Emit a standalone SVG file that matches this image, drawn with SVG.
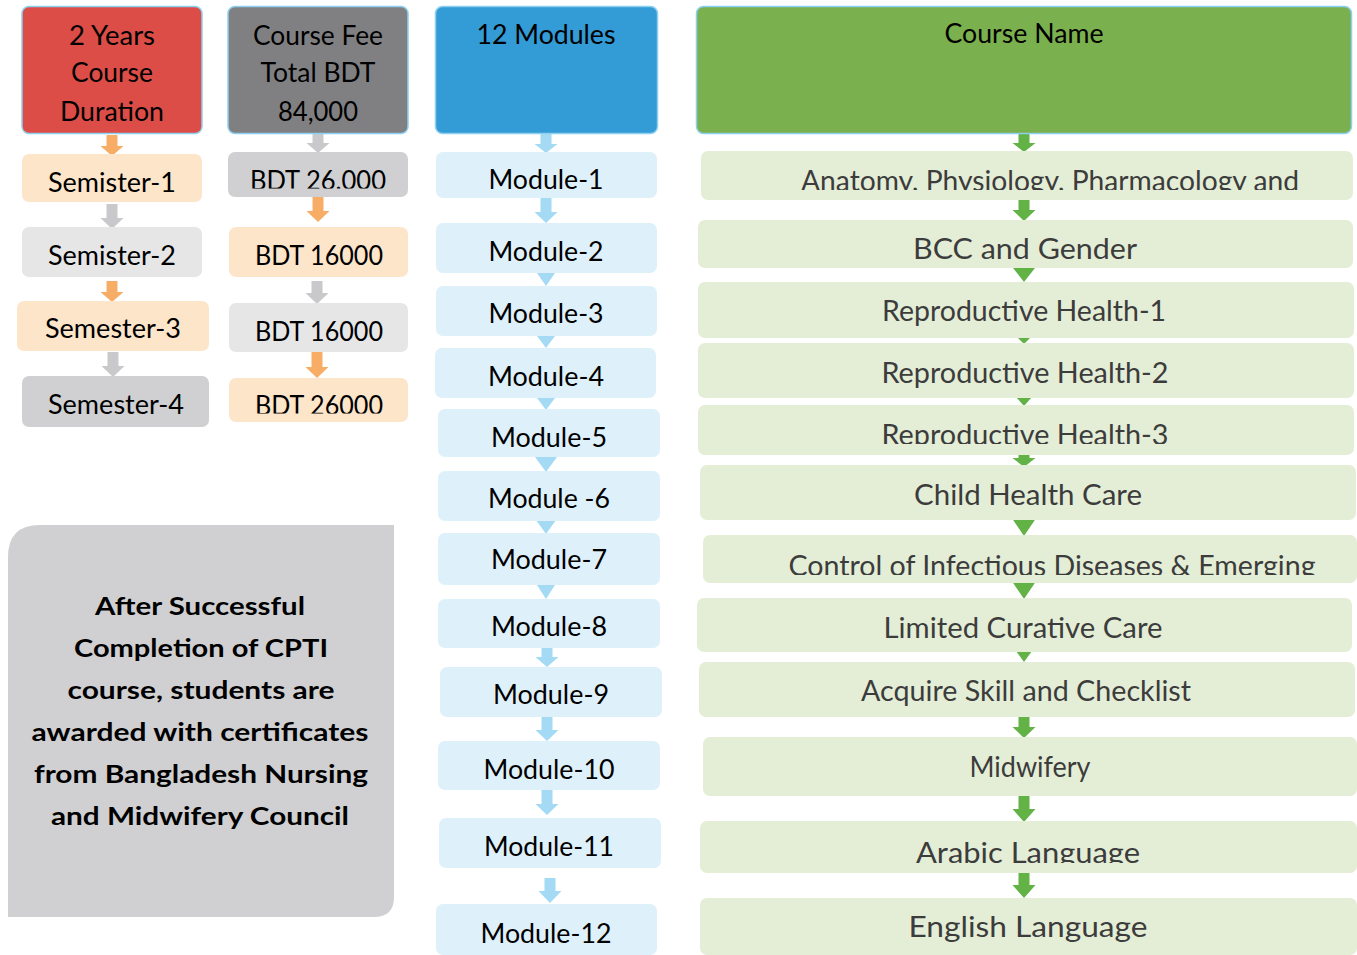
<svg xmlns="http://www.w3.org/2000/svg" width="1357" height="955" viewBox="0 0 1357 955">
<style>
.hdr{stroke:#8DD0F0;stroke-width:1.5}
.t{font-family:Lato,"Liberation Sans",sans-serif;font-size:26px;fill:#000;text-anchor:middle}
.g{font-family:Lato,"Liberation Sans",sans-serif;font-size:28px;fill:#3C3C3C;text-anchor:middle}
.b{font-family:Lato,"Liberation Sans",sans-serif;font-weight:bold;font-size:25px;fill:#000;text-anchor:middle}
.peach{fill:#FDE5CA}
.lg{fill:#E6E6E7}
.mg{fill:#D0D0D2}
.mod{fill:#DEF0FA}
.crs{fill:#E4EED6}
.ao{fill:#F7AD66}
.ag{fill:#C9C9CB}
.ab{fill:#A4DAF4}
.agr{fill:#62B246}
</style>
<defs>
<clipPath id="c1"><rect x="220" y="140" width="200" height="48.5"/></clipPath>
<clipPath id="c2"><rect x="220" y="370" width="200" height="43.5"/></clipPath>
<clipPath id="c3"><rect x="690" y="140" width="667" height="50"/></clipPath>
<clipPath id="c4"><rect x="690" y="400" width="667" height="44"/></clipPath>
<clipPath id="c5"><rect x="690" y="530" width="667" height="45"/></clipPath>
<clipPath id="c6"><rect x="690" y="815" width="667" height="48"/></clipPath>
</defs>

<g id="connectors">
<path class="ao" d="M106.5,135 H117.5 V146 H123.5 L112,156 L100.5,146 H106.5 Z"/>
<path class="ag" d="M106.5,204 H117.5 V218 H123.5 L112,229 L100.5,218 H106.5 Z"/>
<path class="ao" d="M106.5,281 H117.5 V292 H123.5 L112,302 L100.5,292 H106.5 Z"/>
<path class="ag" d="M107.5,352 H118.5 V366 H124.5 L113,377 L101.5,366 H107.5 Z"/>

<path class="ag" d="M312.5,134 H323.5 V143 H329.5 L318,153 L306.5,143 H312.5 Z"/>
<path class="ao" d="M312.5,197 H323.5 V211 H329.5 L318,222 L306.5,211 H312.5 Z"/>
<path class="ag" d="M311.5,281 H322.5 V293 H328.5 L317,304 L305.5,293 H311.5 Z"/>
<path class="ao" d="M311.5,352 H322.5 V367 H328.5 L317,378 L305.5,367 H311.5 Z"/>

<path class="ab" d="M540.5,134 H551.5 V144 H557.5 L546,153 L534.5,144 H540.5 Z"/>
<path class="ab" d="M540.5,198 H551.5 V212 H557.5 L546,223 L534.5,212 H540.5 Z"/>
<path class="ab" d="M537,273 H555 L546,286 Z"/>
<path class="ab" d="M537,336 H555 L546,348 Z"/>
<path class="ab" d="M537,398 H555 L546,410 Z"/>
<path class="ab" d="M535,457 H557 L546,472 Z"/>
<path class="ab" d="M536,520 H556 L546,534 Z"/>
<path class="ab" d="M537,585 H555 L546,599 Z"/>
<path class="ab" d="M541.5,648 H552.5 V657 H558.5 L547,667 L535.5,657 H541.5 Z"/>
<path class="ab" d="M541.5,716 H552.5 V730 H558.5 L547,741 L535.5,730 H541.5 Z"/>
<path class="ab" d="M541.5,790 H552.5 V804 H558.5 L547,815 L535.5,804 H541.5 Z"/>
<path class="ab" d="M544.5,878 H555.5 V891 H561.5 L550,903 L538.5,891 H544.5 Z"/>

<path class="agr" d="M1018.5,134 H1029.5 V143 H1035.5 L1024,152 L1012.5,143 H1018.5 Z"/>
<path class="agr" d="M1018.5,199 H1029.5 V210 H1035.5 L1024,221 L1012.5,210 H1018.5 Z"/>
<path class="agr" d="M1013,268 H1035 L1024,282 Z"/>
<path class="agr" d="M1017,337 H1031 L1024,344 Z"/>
<path class="agr" d="M1016,397 H1032 L1024,406 Z"/>
<path class="agr" d="M1018.5,454 H1029.5 V458 H1035.5 L1024,467 L1012.5,458 H1018.5 Z"/>
<path class="agr" d="M1012.5,519 H1035.5 L1024,536 Z"/>
<path class="agr" d="M1012.5,582 H1035.5 L1024,599 Z"/>
<path class="agr" d="M1016,651 H1032 L1024,662 Z"/>
<path class="agr" d="M1018.5,716 H1029.5 V727 H1035.5 L1024,738 L1012.5,727 H1018.5 Z"/>
<path class="agr" d="M1018.5,796 H1029.5 V809 H1035.5 L1024,822 L1012.5,809 H1018.5 Z"/>
<path class="agr" d="M1018.5,872 H1029.5 V885 H1035.5 L1024,898 L1012.5,885 H1018.5 Z"/>
</g>

<!-- Column 1 -->
<g id="duration">
<rect class="hdr" x="22" y="6.5" width="180" height="127" rx="7" fill="#DC4D47"/>
<text class="t" x="112" y="45" textLength="86" lengthAdjust="spacingAndGlyphs">2 Years</text>
<text class="t" x="112" y="82" textLength="82" lengthAdjust="spacingAndGlyphs">Course</text>
<text class="t" x="112" y="121" textLength="104" lengthAdjust="spacingAndGlyphs">Duration</text>
</g>
<g id="sem1">
<rect class="peach" x="22" y="154" width="180" height="48" rx="7"/>
<text class="t" x="112" y="192" textLength="128" lengthAdjust="spacingAndGlyphs">Semister-1</text>
</g>
<g id="sem2">
<rect class="lg" x="22" y="227" width="180" height="50" rx="7"/>
<text class="t" x="112" y="265" textLength="128" lengthAdjust="spacingAndGlyphs">Semister-2</text>
</g>
<g id="sem3">
<rect class="peach" x="17" y="301" width="192" height="50" rx="7"/>
<text class="t" x="113" y="338" textLength="136" lengthAdjust="spacingAndGlyphs">Semester-3</text>
</g>
<g id="sem4">
<rect class="mg" x="22" y="376" width="187" height="51" rx="7"/>
<text class="t" x="116" y="414" textLength="136" lengthAdjust="spacingAndGlyphs">Semester-4</text>
</g>

<!-- Column 2 -->
<g id="fee">
<rect class="hdr" x="228" y="6.5" width="180" height="127" rx="7" fill="#808082"/>
<text class="t" x="318" y="45" textLength="130" lengthAdjust="spacingAndGlyphs">Course Fee</text>
<text class="t" x="318" y="82" textLength="115" lengthAdjust="spacingAndGlyphs">Total BDT</text>
<text class="t" x="318" y="121" textLength="80" lengthAdjust="spacingAndGlyphs">84,000</text>
</g>
<g id="fee1">
<rect class="mg" x="228" y="152" width="180" height="45" rx="7"/>
<text class="t" x="318" y="190" textLength="136" lengthAdjust="spacingAndGlyphs" clip-path="url(#c1)">BDT 26.000</text>
</g>
<g id="fee2">
<rect class="peach" x="229" y="227" width="179" height="50" rx="7"/>
<text class="t" x="319" y="265" textLength="128" lengthAdjust="spacingAndGlyphs">BDT 16000</text>
</g>
<g id="fee3">
<rect class="lg" x="229" y="303" width="179" height="49" rx="7"/>
<text class="t" x="319" y="341" textLength="128" lengthAdjust="spacingAndGlyphs">BDT 16000</text>
</g>
<g id="fee4">
<rect class="peach" x="229" y="378" width="179" height="44" rx="7"/>
<text class="t" x="319" y="415" textLength="128" lengthAdjust="spacingAndGlyphs" clip-path="url(#c2)">BDT 26000</text>
</g>

<!-- Column 3 -->
<g id="modules">
<rect class="hdr" x="435.5" y="6.5" width="222" height="127" rx="7" fill="#339BD5"/>
<text class="t" x="546" y="44" textLength="139" lengthAdjust="spacingAndGlyphs">12 Modules</text>
</g>
<g id="m1"><rect class="mod" x="436" y="152" width="221" height="46" rx="7"/><text class="t" x="546" y="189" textLength="115" lengthAdjust="spacingAndGlyphs">Module-1</text></g>
<g id="m2"><rect class="mod" x="436" y="223" width="221" height="50" rx="7"/><text class="t" x="546" y="261" textLength="115" lengthAdjust="spacingAndGlyphs">Module-2</text></g>
<g id="m3"><rect class="mod" x="436" y="286" width="221" height="50" rx="7"/><text class="t" x="546" y="323" textLength="115" lengthAdjust="spacingAndGlyphs">Module-3</text></g>
<g id="m4"><rect class="mod" x="435" y="348" width="221" height="50" rx="7"/><text class="t" x="546" y="386" textLength="116" lengthAdjust="spacingAndGlyphs">Module-4</text></g>
<g id="m5"><rect class="mod" x="438" y="409" width="222" height="48" rx="7"/><text class="t" x="549" y="447" textLength="116" lengthAdjust="spacingAndGlyphs">Module-5</text></g>
<g id="m6"><rect class="mod" x="438" y="471" width="222" height="50" rx="7"/><text class="t" x="549" y="508" textLength="122" lengthAdjust="spacingAndGlyphs">Module -6</text></g>
<g id="m7"><rect class="mod" x="438" y="533" width="222" height="52" rx="7"/><text class="t" x="549" y="569" textLength="116" lengthAdjust="spacingAndGlyphs">Module-7</text></g>
<g id="m8"><rect class="mod" x="438" y="599" width="222" height="49" rx="7"/><text class="t" x="549" y="636" textLength="116" lengthAdjust="spacingAndGlyphs">Module-8</text></g>
<g id="m9"><rect class="mod" x="440" y="667" width="222" height="50" rx="7"/><text class="t" x="551" y="704" textLength="116" lengthAdjust="spacingAndGlyphs">Module-9</text></g>
<g id="m10"><rect class="mod" x="438" y="741" width="222" height="49" rx="7"/><text class="t" x="549" y="779" textLength="131" lengthAdjust="spacingAndGlyphs">Module-10</text></g>
<g id="m11"><rect class="mod" x="439" y="818" width="222" height="50" rx="7"/><text class="t" x="549" y="856" textLength="130" lengthAdjust="spacingAndGlyphs">Module-11</text></g>
<g id="m12"><rect class="mod" x="436" y="904" width="221" height="51" rx="7"/><text class="t" x="546" y="943" textLength="131" lengthAdjust="spacingAndGlyphs">Module-12</text></g>

<!-- Column 4 -->
<g id="coursename">
<rect class="hdr" x="696.5" y="6.5" width="655" height="127" rx="7" fill="#7AB04D"/>
<text class="t" x="1024" y="43" textLength="159" lengthAdjust="spacingAndGlyphs">Course Name</text>
</g>
<g id="c01"><rect class="crs" x="701" y="151" width="652" height="49" rx="7"/><text class="g" x="1050" y="191" textLength="498" lengthAdjust="spacingAndGlyphs" clip-path="url(#c3)">Anatomy, Physiology, Pharmacology and</text></g>
<g id="c02"><rect class="crs" x="698" y="220" width="655" height="48" rx="7"/><text class="g" x="1025" y="259" textLength="224" lengthAdjust="spacingAndGlyphs">BCC and Gender</text></g>
<g id="c03"><rect class="crs" x="698" y="282" width="656" height="56" rx="7"/><text class="g" x="1024" y="321" textLength="284" lengthAdjust="spacingAndGlyphs">Reproductive Health-1</text></g>
<g id="c04"><rect class="crs" x="698" y="343" width="656" height="55" rx="7"/><text class="g" x="1025" y="383" textLength="287" lengthAdjust="spacingAndGlyphs">Reproductive Health-2</text></g>
<g id="c05"><rect class="crs" x="698" y="405" width="656" height="50" rx="7"/><text class="g" x="1025" y="445" textLength="287" lengthAdjust="spacingAndGlyphs" clip-path="url(#c4)">Reproductive Health-3</text></g>
<g id="c06"><rect class="crs" x="700" y="465" width="656" height="55" rx="7"/><text class="g" x="1028" y="505" textLength="228" lengthAdjust="spacingAndGlyphs">Child Health Care</text></g>
<g id="c07"><rect class="crs" x="703" y="535" width="654" height="48" rx="7"/><text class="g" x="1052" y="576" textLength="527" lengthAdjust="spacingAndGlyphs" clip-path="url(#c5)">Control of Infectious Diseases &amp; Emerging</text></g>
<g id="c08"><rect class="crs" x="697" y="598" width="655" height="54" rx="7"/><text class="g" x="1023" y="638" textLength="279" lengthAdjust="spacingAndGlyphs">Limited Curative Care</text></g>
<g id="c09"><rect class="crs" x="699" y="662" width="656" height="55" rx="7"/><text class="g" x="1026" y="701" textLength="330" lengthAdjust="spacingAndGlyphs">Acquire Skill and Checklist</text></g>
<g id="c10"><rect class="crs" x="703" y="737" width="654" height="59" rx="7"/><text class="g" x="1030" y="777" textLength="121" lengthAdjust="spacingAndGlyphs">Midwifery</text></g>
<g id="c11"><rect class="crs" x="700" y="821" width="657" height="52" rx="7"/><text class="g" x="1028" y="863" textLength="224" lengthAdjust="spacingAndGlyphs" clip-path="url(#c6)">Arabic Language</text></g>
<g id="c12"><rect class="crs" x="700" y="898" width="657" height="57" rx="7"/><text class="g" x="1028" y="937" textLength="239" lengthAdjust="spacingAndGlyphs">English Language</text></g>

<!-- Certificate note -->
<g id="certificate">
<path d="M40,525 H394 V897 Q394,917 374,917 H8 V557 Q8,525 40,525 Z" fill="#D0D0D2"/>
<text class="b" x="200" y="615" textLength="210" lengthAdjust="spacingAndGlyphs">After Successful</text>
<text class="b" x="201" y="657" textLength="254" lengthAdjust="spacingAndGlyphs">Completion of CPTI</text>
<text class="b" x="201" y="699" textLength="267" lengthAdjust="spacingAndGlyphs">course, students are</text>
<text class="b" x="200" y="741" textLength="337" lengthAdjust="spacingAndGlyphs">awarded with certificates</text>
<text class="b" x="201" y="783" textLength="334" lengthAdjust="spacingAndGlyphs">from Bangladesh Nursing</text>
<text class="b" x="200" y="825" textLength="298" lengthAdjust="spacingAndGlyphs">and Midwifery Council</text>
</g>
</svg>
